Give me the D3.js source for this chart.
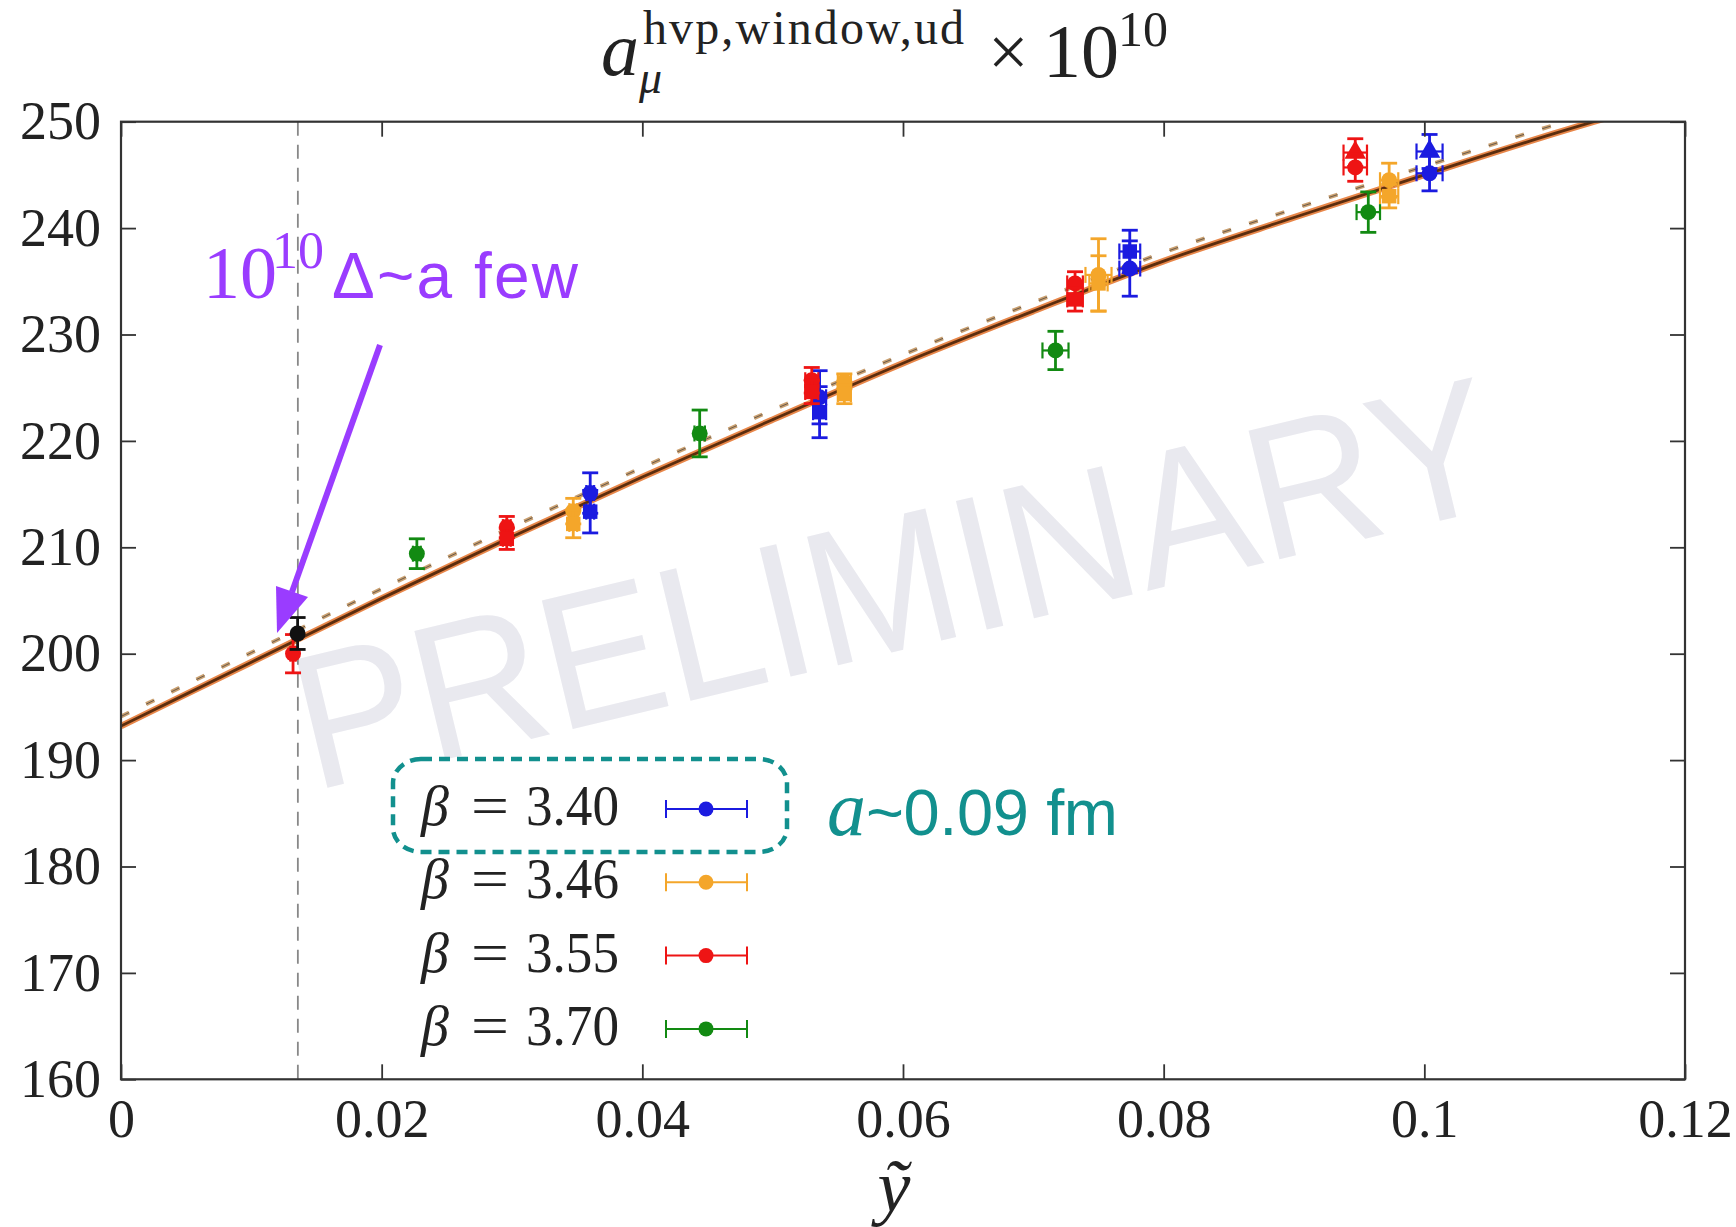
<!DOCTYPE html>
<html>
<head>
<meta charset="utf-8">
<script src="https://cdn.jsdelivr.net/npm/d3@7"></script>
<style>
  body { margin: 0; background: #fff; }
  svg { display: block; }
</style>
</head>
<body>
<svg id="chart" width="1736" height="1227"></svg>
<script>
// ---- data ----
const betas = ["3.40", "3.46", "3.55", "3.70"];

// kind: c = circle, s = square, t = triangle (different ensembles)
const beta340 = [
    {x: 0.0360, y: 213.35, ey: 2.0, ex: 0.0003, kind: "s"},
    {x: 0.0360, y: 215.1, ey: 1.9, ex: 0.0003, kind: "c"},
    {x: 0.0536, y: 222.7, ey: 2.4, ex: 0.0005, kind: "s"},
    {x: 0.0536, y: 224.1, ey: 2.5, ex: 0.0005, kind: "c"},
    {x: 0.0774, y: 237.8, ey: 2.0, ex: 0.0008, kind: "s"},
    {x: 0.0774, y: 236.2, ey: 2.6, ex: 0.0008, kind: "c"},
    {x: 0.1004, y: 247.2, ey: 1.6, ex: 0.0010, kind: "t"},
    {x: 0.1004, y: 245.15, ey: 1.65, ex: 0.0010, kind: "c"}
];
const beta346 = [
    {x: 0.0347, y: 213.4, ey: 1.2, ex: 0.0003, kind: "c"},
    {x: 0.0347, y: 212.2, ey: 1.3, ex: 0.0003, kind: "s"},
    {x: 0.0555, y: 225.6, ey: 0.7, ex: 0.0005, kind: "c"},
    {x: 0.0555, y: 224.4, ey: 0.9, ex: 0.0005, kind: "s"},
    {x: 0.0750, y: 235.6, ey: 3.4, ex: 0.0010, kind: "c"},
    {x: 0.0750, y: 234.8, ey: 2.6, ex: 0.0007, kind: "s"},
    {x: 0.0973, y: 244.5, ey: 1.6, ex: 0.0007, kind: "c"},
    {x: 0.0973, y: 243.0, ey: 1.1, ex: 0.0007, kind: "s"}
];
const beta355 = [
    {x: 0.0132, y: 200.0, ey: 1.8, ex: 0.0002, kind: "c"},
    {x: 0.0296, y: 211.9, ey: 1.0, ex: 0.0003, kind: "c"},
    {x: 0.0296, y: 210.8, ey: 1.0, ex: 0.0003, kind: "s"},
    {x: 0.0530, y: 225.7, ey: 1.2, ex: 0.0005, kind: "c"},
    {x: 0.0530, y: 224.6, ey: 1.1, ex: 0.0005, kind: "s"},
    {x: 0.0732, y: 234.8, ey: 1.1, ex: 0.0006, kind: "c"},
    {x: 0.0732, y: 233.3, ey: 1.1, ex: 0.0006, kind: "s"},
    {x: 0.0947, y: 247.1, ey: 1.3, ex: 0.0009, kind: "t"},
    {x: 0.0947, y: 245.7, ey: 1.3, ex: 0.0009, kind: "c"}
];
const beta370 = [
    {x: 0.0227, y: 209.4, ey: 1.4, ex: 0.0003, kind: "c"},
    {x: 0.0444, y: 220.7, ey: 2.2, ex: 0.0004, kind: "c"},
    {x: 0.0717, y: 228.5, ey: 1.8, ex: 0.0010, kind: "c"},
    {x: 0.0957, y: 241.5, ey: 1.9, ex: 0.0009, kind: "c"}
];
const physicalPoint = [{x: 0.01355, y: 201.9, ey: 1.5, ex: 0, kind: "c"}];
const physicalX = 0.01357;

// fit curve (solid) and second fit (dashed), read at these x
const fitX = [0, 0.01, 0.02, 0.03, 0.04, 0.05, 0.06, 0.07, 0.08, 0.09, 0.10, 0.11, 0.12];
const fitY = [193.2, 199.2, 205.2, 211.0, 216.6, 222.0, 227.3, 232.2, 236.9, 241.0, 245.0, 248.9, 252.5];
const fitDashY = [194.1, 200.1, 206.1, 211.9, 217.5, 222.9, 228.1, 233.0, 237.7, 241.8, 245.8, 249.7, 253.3];

const xTicks = [0, 0.02, 0.04, 0.06, 0.08, 0.10, 0.12];
const xTickLabels = ["0", "0.02", "0.04", "0.06", "0.08", "0.1", "0.12"];
const yTicks = [160, 170, 180, 190, 200, 210, 220, 230, 240, 250];

// ---- drawing ----
const seriesData = [beta340, beta346, beta355, beta370];
const seriesColors = ["#1b1be0", "#f4a62a", "#ee1414", "#128a12"];

const svg = d3.select("#chart");
const plotLeft = 121, plotRight = 1685, plotTop = 121.7, plotBottom = 1079.3;
const serif = "'Liberation Serif', 'DejaVu Serif', serif";
const sans = "'Liberation Sans', Arial, sans-serif";

const x = d3.scaleLinear().domain([0, 0.12]).range([plotLeft, plotRight]);
const y = d3.scaleLinear().domain([160, 250]).range([plotBottom, plotTop]);

svg.append("rect").attr("width", 1736).attr("height", 1227).attr("fill", "#fff");

svg.append("defs").append("clipPath").attr("id", "plotClip")
    .append("rect")
    .attr("x", plotLeft).attr("y", plotTop)
    .attr("width", plotRight - plotLeft).attr("height", plotBottom - plotTop);

// watermark
svg.append("text")
    .attr("x", 910).attr("y", 648)
    .attr("transform", "rotate(-13.5, 910, 648)")
    .attr("text-anchor", "middle")
    .attr("font-family", sans)
    .attr("font-size", 192)
    .attr("textLength", 1228)
    .attr("lengthAdjust", "spacingAndGlyphs")
    .attr("fill", "#e9e9ef")
    .text("PRELIMINARY");

// physical point vertical line
svg.append("line")
    .attr("x1", x(physicalX)).attr("x2", x(physicalX))
    .attr("y1", plotTop).attr("y2", plotBottom)
    .attr("stroke", "#888")
    .attr("stroke-width", 1.8)
    .attr("stroke-dasharray", "14,9");

// fit curves
const plotG = svg.append("g").attr("clip-path", "url(#plotClip)");
const fitLine = d3.line()
    .x((d, i) => x(fitX[i]))
    .y(d => y(d))
    .curve(d3.curveMonotoneX);

plotG.append("path").attr("d", fitLine(fitDashY))
    .attr("fill", "none").attr("stroke", "#caa070")
    .attr("stroke-width", 4).attr("stroke-dasharray", "9,19");
plotG.append("path").attr("d", fitLine(fitDashY))
    .attr("fill", "none").attr("stroke", "#6a5a4a")
    .attr("stroke-width", 1).attr("stroke-dasharray", "9,19");
plotG.append("path").attr("d", fitLine(fitY))
    .attr("fill", "none").attr("stroke", "#e8874a")
    .attr("stroke-width", 6.5);
plotG.append("path").attr("d", fitLine(fitY))
    .attr("fill", "none").attr("stroke", "#5b2d0e")
    .attr("stroke-width", 2.8);

// data points with error bars
function drawPoints(data, color) {
    let g = svg.append("g");
    let cap = 8;
    data.forEach(function (d) {
        let px = x(d.x), py = y(d.y);
        let y1 = y(d.y + d.ey), y2 = y(d.y - d.ey);
        g.append("line").attr("x1", px).attr("x2", px).attr("y1", y1).attr("y2", y2)
            .attr("stroke", color).attr("stroke-width", 2.8);
        g.append("line").attr("x1", px - cap).attr("x2", px + cap).attr("y1", y1).attr("y2", y1)
            .attr("stroke", color).attr("stroke-width", 2.8);
        g.append("line").attr("x1", px - cap).attr("x2", px + cap).attr("y1", y2).attr("y2", y2)
            .attr("stroke", color).attr("stroke-width", 2.8);
        if (d.ex > 0) {
            let x1 = x(d.x - d.ex), x2 = x(d.x + d.ex);
            g.append("line").attr("x1", x1).attr("x2", x2).attr("y1", py).attr("y2", py)
                .attr("stroke", color).attr("stroke-width", 2.2);
            g.append("line").attr("x1", x1).attr("x2", x1).attr("y1", py - cap).attr("y2", py + cap)
                .attr("stroke", color).attr("stroke-width", 2.2);
            g.append("line").attr("x1", x2).attr("x2", x2).attr("y1", py - cap).attr("y2", py + cap)
                .attr("stroke", color).attr("stroke-width", 2.2);
        }
        let shape = d.kind === "s" ? d3.symbolSquare : (d.kind === "t" ? d3.symbolTriangle : d3.symbolCircle);
        g.append("path")
            .attr("d", d3.symbol().type(shape).size(d.kind === "s" ? 210 : 200)())
            .attr("transform", "translate(" + px + "," + py + ")")
            .attr("fill", color);
    });
}
seriesData.forEach((s, i) => drawPoints(s, seriesColors[i]));
drawPoints(physicalPoint, "#111");

// frame and ticks on all four sides
svg.append("rect")
    .attr("x", plotLeft).attr("y", plotTop)
    .attr("width", plotRight - plotLeft).attr("height", plotBottom - plotTop)
    .attr("fill", "none").attr("stroke", "#333").attr("stroke-width", 2.2);

function styleAxis(g) {
    g.select(".domain").remove();
    g.selectAll(".tick line").attr("stroke", "#333").attr("stroke-width", 1.8);
    g.selectAll("text")
        .attr("font-family", serif)
        .attr("font-size", 54)
        .attr("fill", "#222");
}

svg.append("g")
    .attr("transform", "translate(0," + plotBottom + ")")
    .call(d3.axisBottom(x).tickValues(xTicks).tickSize(-15).tickPadding(19)
        .tickFormat((d, i) => xTickLabels[i]))
    .call(styleAxis);
svg.append("g")
    .attr("transform", "translate(0," + plotTop + ")")
    .call(d3.axisTop(x).tickValues(xTicks).tickSize(-15).tickFormat(""))
    .call(styleAxis);
svg.append("g")
    .attr("transform", "translate(" + plotLeft + ",0)")
    .call(d3.axisLeft(y).tickValues(yTicks).tickSize(-15).tickPadding(20))
    .call(styleAxis);
svg.append("g")
    .attr("transform", "translate(" + plotRight + ",0)")
    .call(d3.axisRight(y).tickValues(yTicks).tickSize(-15).tickFormat(""))
    .call(styleAxis);

// x label
svg.append("text")
    .attr("x", 894).attr("y", 1211)
    .attr("text-anchor", "middle")
    .attr("font-family", serif).attr("font-style", "italic")
    .attr("font-size", 74).attr("fill", "#222")
    .text("ỹ");

// title
const title = svg.append("g").attr("fill", "#222").attr("font-family", serif);
title.append("text").attr("x", 601).attr("y", 75).attr("font-size", 76)
    .attr("font-style", "italic").text("a");
title.append("text").attr("x", 639).attr("y", 93).attr("font-size", 46)
    .attr("font-style", "italic").text("μ");
title.append("text").attr("x", 643).attr("y", 44).attr("font-size", 48)
    .attr("textLength", 321).attr("lengthAdjust", "spacing").text("hvp,window,ud");
title.append("text").attr("x", 988).attr("y", 76).attr("font-size", 72).text("×");
title.append("text").attr("x", 1043).attr("y", 77).attr("font-size", 76).text("10");
title.append("text").attr("x", 1118).attr("y", 46).attr("font-size", 50).text("10");

// legend
const legend = svg.append("g");
betas.forEach(function (b, i) {
    let base = 825 + i * 73.3;
    legend.append("text").attr("x", 421).attr("y", base)
        .attr("font-family", serif).attr("font-style", "italic").attr("font-size", 56)
        .attr("fill", "#222").text("β");
    legend.append("text").attr("x", 471).attr("y", base)
        .attr("font-family", serif).attr("font-size", 56)
        .attr("textLength", 38).attr("lengthAdjust", "spacingAndGlyphs")
        .attr("fill", "#222").text("=");
    legend.append("text").attr("x", 526).attr("y", base)
        .attr("font-family", serif).attr("font-size", 56)
        .attr("textLength", 93).attr("lengthAdjust", "spacingAndGlyphs")
        .attr("fill", "#222").text(b);
    let cy = base - 16;
    let c = seriesColors[i];
    legend.append("line").attr("x1", 666).attr("x2", 747).attr("y1", cy).attr("y2", cy)
        .attr("stroke", c).attr("stroke-width", 2);
    legend.append("line").attr("x1", 666).attr("x2", 666).attr("y1", cy - 9).attr("y2", cy + 9)
        .attr("stroke", c).attr("stroke-width", 2);
    legend.append("line").attr("x1", 747).attr("x2", 747).attr("y1", cy - 9).attr("y2", cy + 9)
        .attr("stroke", c).attr("stroke-width", 2);
    legend.append("circle").attr("cx", 706).attr("cy", cy).attr("r", 7.5).attr("fill", c);
});

// teal annotation
svg.append("rect")
    .attr("x", 393).attr("y", 759).attr("width", 394).attr("height", 93)
    .attr("rx", 28).attr("ry", 24)
    .attr("fill", "none").attr("stroke", "#12908e")
    .attr("stroke-width", 4.5).attr("stroke-dasharray", "11,7");
svg.append("text").attr("x", 827).attr("y", 835)
    .attr("font-family", serif).attr("font-style", "italic").attr("font-size", 78)
    .attr("fill", "#12908e").text("a");
svg.append("text").attr("x", 866).attr("y", 835)
    .attr("font-family", sans).attr("font-size", 65)
    .attr("textLength", 252).attr("fill", "#12908e").text("~0.09 fm");

// purple annotation and arrow
const purple = "#9a3cff";
svg.append("text").attr("x", 203).attr("y", 298)
    .attr("font-family", serif).attr("font-size", 74).attr("fill", purple).text("10");
svg.append("text").attr("x", 272).attr("y", 268)
    .attr("font-family", serif).attr("font-size", 52).attr("fill", purple).text("10");
svg.append("text").attr("x", 332).attr("y", 298)
    .attr("font-family", sans).attr("font-size", 64)
    .attr("textLength", 246).attr("fill", purple).text("Δ~a few");

svg.append("line")
    .attr("x1", 380).attr("y1", 345).attr("x2", 292).attr("y2", 592)
    .attr("stroke", purple).attr("stroke-width", 6);
svg.append("path")
    .attr("d", "M277,633 L308,597 L276,586 Z")
    .attr("fill", purple);
</script>
</body>
</html>
